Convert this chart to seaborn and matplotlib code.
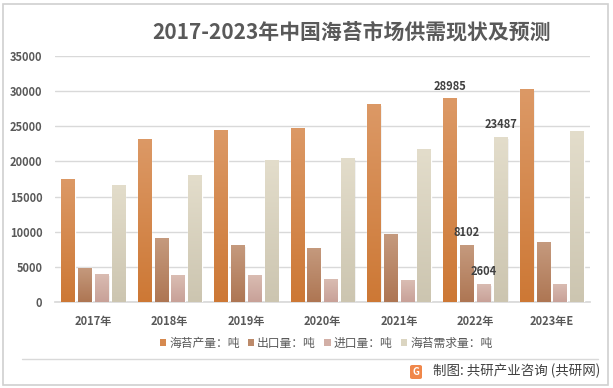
import numpy as np
import pandas as pd
import matplotlib
matplotlib.use("Agg")
import matplotlib.pyplot as plt
import seaborn as sns
from matplotlib.patches import Rectangle, FancyBboxPatch
from matplotlib.colors import LinearSegmentedColormap

years = ["2017年", "2018年", "2019年", "2020年", "2021年", "2022年", "2023年E"]
series = ["海苔产量：吨", "出口量：吨", "进口量：吨", "海苔需求量：吨"]
production = [17500, 23200, 24500, 24800, 28200, 28985, 30300]
exports = [4900, 9100, 8100, 7700, 9700, 8102, 8500]
imports = [4000, 3800, 3850, 3300, 3100, 2604, 2600]
demand = [16700, 18000, 20200, 20500, 21700, 23487, 24300]
yticks = [0, 5000, 10000, 15000, 20000, 25000, 30000, 35000]

colors_mid = ["#D6894F", "#BC8A6A", "#D2AFA6", "#DBD5C1"]
grad_top = ["#DC9966", "#C59A7E", "#DABDB3", "#E3DDCB"]
grad_bot = ["#CD7835", "#AE7653", "#C8A198", "#CCC5B0"]

df = pd.DataFrame({
    "year": np.repeat(years, 4),
    "series": series * len(years),
    "value": np.ravel(np.column_stack([production, exports, imports, demand])),
})

sns.set_theme(style="white")
plt.rcParams["font.family"] = ["Noto Sans CJK SC", "DejaVu Sans"]

fig = plt.figure(figsize=(6.13, 3.88), dpi=100)
ax = fig.add_axes([55 / 613, 1 - 302 / 388, 535 / 613, 246 / 388])

sns.barplot(data=df, x="year", y="value", hue="series", palette=colors_mid,
            width=0.88, ax=ax, legend=False, saturation=1, zorder=3)

ax.set_ylim(0, 35000)
ax.set_xlim(-0.5, len(years) - 0.5)
ax.set_yticks(yticks)
ax.set_yticklabels([str(v) for v in yticks], fontsize=8, fontweight="bold", color="#595959")
ax.set_xticks(range(len(years)))
ax.set_xticklabels(years, fontsize=8, fontweight="bold", color="#595959")
ax.tick_params(axis="y", length=0, pad=9)
ax.tick_params(axis="x", length=0, pad=9)
ax.set_xlabel("")
ax.set_ylabel("")
for s in ["top", "right", "left"]:
    ax.spines[s].set_visible(False)
ax.spines["bottom"].set_color("#D9D9D9")
ax.grid(axis="y", color="#D9D9D9", linewidth=1, zorder=0)
ax.set_axisbelow(True)

# gradient + shadow
patches = list(ax.patches)
grad = np.linspace(1, 0, 256).reshape(-1, 1)
for i, p in enumerate(patches):
    si = i // len(years)
    x0, w, h = p.get_x(), p.get_width(), p.get_height()
    nw = w * 0.8
    nx = x0 + (w - nw) / 2
    p.set_x(nx)
    p.set_width(nw)
    # soft shadow on the right side
    for k, a in enumerate([0.10, 0.06]):
        sh = Rectangle((nx + 0.008 * (k + 1), 0), nw, max(h - 150 * (k + 1), 0),
                       facecolor="#000000", alpha=a, edgecolor="none", zorder=2.5)
        ax.add_patch(sh)
    cmap = LinearSegmentedColormap.from_list("g", [grad_bot[si], grad_top[si]])
    im = ax.imshow(grad, extent=[nx, nx + nw, 0, h], aspect="auto", cmap=cmap,
                   vmin=0, vmax=1, origin="upper", zorder=3.5)
    im.set_clip_path(p)
    ax.set_xlim(-0.5, len(years) - 0.5)
    ax.set_ylim(0, 35000)

# annotations for 2022
vals22 = [production[5], exports[5], imports[5], demand[5]]
for si in range(4):
    p = patches[si * len(years) + 5]
    ax.annotate(str(vals22[si]), (p.get_x() + p.get_width() / 2, p.get_height()),
                xytext=(0, 4), textcoords="offset points", ha="center", va="bottom",
                fontsize=8, fontweight="bold", color="#404040", zorder=5)

# title
fig.text(352 / 613, 1 - 32 / 388, "2017-2023年中国海苔市场供需现状及预测", ha="center",
         va="center", fontsize=15, fontweight="bold", color="#595959")

# legend
handles = [Rectangle((0, 0), 1, 1, facecolor=c, edgecolor="none") for c in colors_mid]
fig.legend(handles, series, loc="center", bbox_to_anchor=(326 / 613, 1 - 343 / 388),
           ncol=4, frameon=False, handlelength=0.55, handleheight=0.55,
           handletextpad=0.25, columnspacing=0.7,
           prop={"family": ["Noto Sans CJK SC", "DejaVu Sans"], "size": 8.5})
for t in fig.legends[0].get_texts():
    t.set_color("#595959")

# separator line
fig.add_artist(plt.Line2D([22 / 613, 598 / 613], [1 - 359 / 388, 1 - 359 / 388],
                          color="#D9D9D9", linewidth=1))
# source
icon = FancyBboxPatch((410 / 613, 1 - 379 / 388), 12 / 613, 14 / 388,
                      boxstyle="round,pad=0,rounding_size=0.004",
                      transform=fig.transFigure, facecolor="#F0874A", edgecolor="none")
fig.add_artist(icon)
fig.text(416 / 613, 1 - 372 / 388, "G", ha="center", va="center", fontsize=7,
         fontweight="bold", color="white")
fig.text(600 / 613, 1 - 371 / 388, "制图: 共研产业咨询 (共研网)", ha="right", va="center",
         fontsize=9.7, color="#404040")

# outer border
fig.add_artist(Rectangle((3 / 613, 3 / 388), 605 / 613, 381 / 388, transform=fig.transFigure,
                         facecolor="none", edgecolor="#D0D0D0", linewidth=1.2))

fig.savefig("out.png", dpi=100)
